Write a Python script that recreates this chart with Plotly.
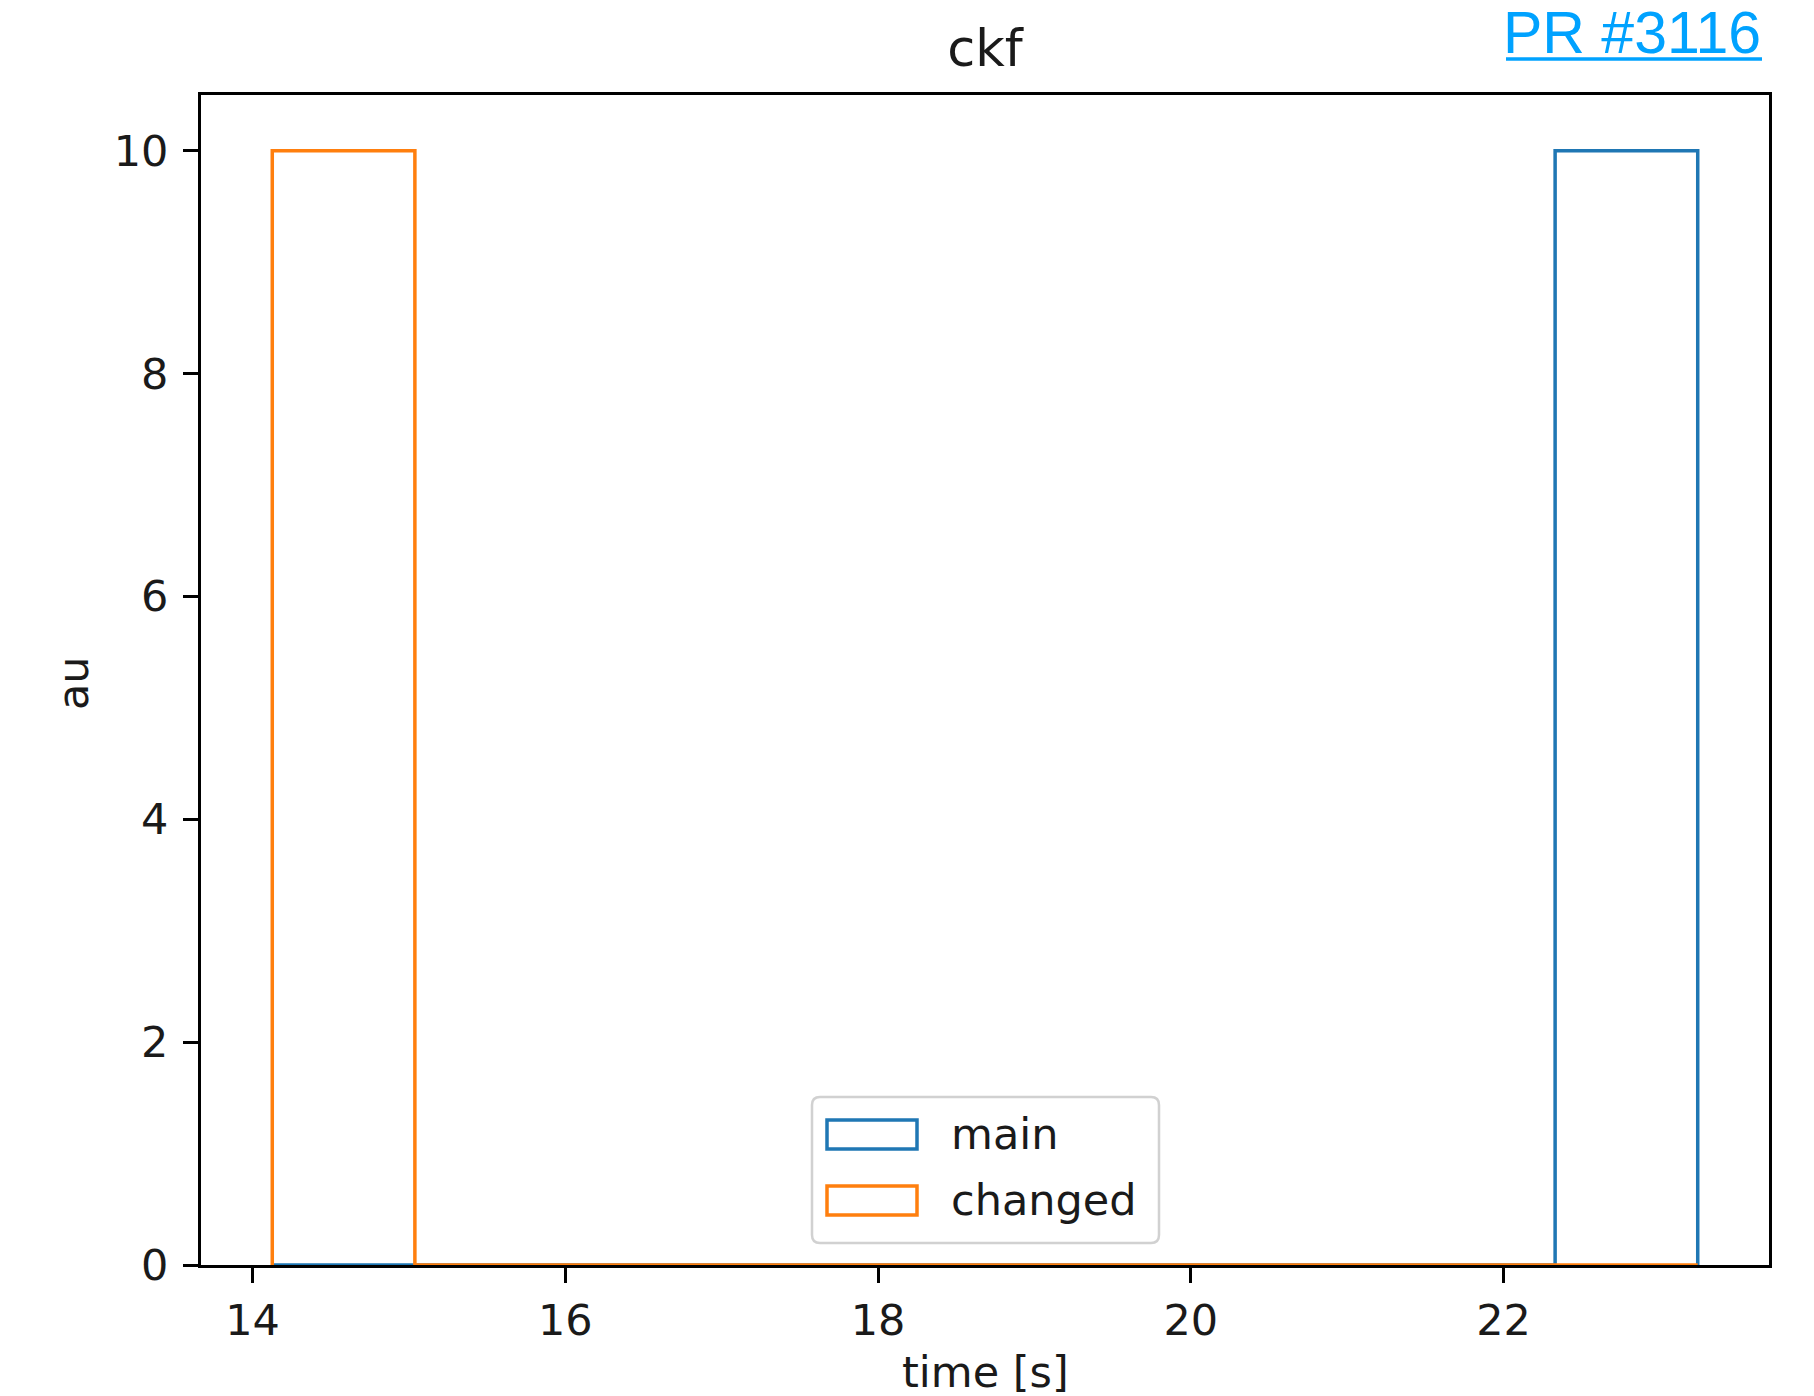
import numpy as np
import plotly.graph_objects as go

# ---- data ----
bin_edges = [14.126, 15.038, 15.949, 16.861, 17.772, 18.684,
             19.596, 20.507, 21.419, 22.330, 23.242]
series_names = ["main", "changed"]
counts_main = [0, 0, 0, 0, 0, 0, 0, 0, 0, 10]
counts_changed = [10, 0, 0, 0, 0, 0, 0, 0, 0, 0]
x_ticks = [14, 16, 18, 20, 22]
y_ticks = [0, 2, 4, 6, 8, 10]
title_text = "ckf"
x_title = "time [s]"
y_title = "au"
link_text = "PR #3116"

colors = {"main": "#1f77b4", "changed": "#ff7f0e"}
W, H = 1814, 1396
L, R, T, B = 201, 45, 95, 131
pw, ph = W - L - R, H - T - B
FONT = "DejaVu Sans"
FS = 43
TXT = "#1a1a1a"


def step_outline(edges, counts):
    e = np.asarray(edges, float)
    c = np.asarray(counts, float)
    xs = np.repeat(e, 2)
    ys = np.concatenate([[0.0], np.repeat(c, 2), [0.0]])
    return xs, ys


fig = go.Figure()
for name, cnt in (("main", counts_main), ("changed", counts_changed)):
    xs, ys = step_outline(bin_edges, cnt)
    fig.add_trace(go.Scatter(x=xs, y=ys, mode="lines", name=name,
                             line=dict(color=colors[name], width=3.5),
                             showlegend=False, hoverinfo="skip"))

span = bin_edges[-1] - bin_edges[0]
xr = [bin_edges[0] - 0.05 * span, bin_edges[-1] + 0.05 * span]
ymax = max(max(counts_main), max(counts_changed))
yr = [0, ymax * 1.05]


def px_x(p):
    return (p - L) / pw


def px_y(p):
    return (H - B - p) / ph


shapes = []
annotations = []
# legend frame (rounded)
lx0, lx1 = px_x(812), px_x(1159)
ly0, ly1 = px_y(1243), px_y(1097)
rx, ry = 8 / pw, 8 / ph
path = (f"M {lx0+rx},{ly0} L {lx1-rx},{ly0} Q {lx1},{ly0} {lx1},{ly0+ry} "
        f"L {lx1},{ly1-ry} Q {lx1},{ly1} {lx1-rx},{ly1} L {lx0+rx},{ly1} "
        f"Q {lx0},{ly1} {lx0},{ly1-ry} L {lx0},{ly0+ry} Q {lx0},{ly0} {lx0+rx},{ly0} Z")
shapes.append(dict(type="path", xref="paper", yref="paper", path=path,
                   line=dict(color="rgba(204,204,204,0.9)", width=2.5),
                   fillcolor="rgba(255,255,255,0.8)", layer="above"))
legend_rows = [("main", 1120, 1149), ("changed", 1186, 1215)]
for name, top, bot in legend_rows:
    shapes.append(dict(type="rect", xref="paper", yref="paper",
                       x0=px_x(827), x1=px_x(917), y0=px_y(bot), y1=px_y(top),
                       line=dict(color=colors[name], width=3.5),
                       fillcolor="rgba(0,0,0,0)", layer="above"))
    annotations.append(dict(text=name, xref="paper", yref="paper",
                            x=px_x(949), y=px_y((top + bot) / 2 - 1),
                            xanchor="left", yanchor="middle", showarrow=False,
                            font=dict(family=FONT, size=FS, color=TXT)))

# axis titles
annotations.append(dict(text=x_title, xref="paper", yref="paper",
                        x=px_x(985), y=px_y(1372), xanchor="center", yanchor="middle",
                        showarrow=False, font=dict(family=FONT, size=FS, color=TXT)))
annotations.append(dict(text=y_title, xref="paper", yref="paper", textangle=-90,
                        x=px_x(73), y=px_y(683), xanchor="center", yanchor="middle",
                        showarrow=False, font=dict(family=FONT, size=FS, color=TXT)))

# link text top-right
annotations.append(dict(text=link_text, xref="paper", yref="paper",
                        x=px_x(1763), y=px_y(33), xanchor="right", yanchor="middle",
                        showarrow=False,
                        font=dict(family="Liberation Sans", size=59, color="#00A2FF")))
shapes.append(dict(type="line", xref="paper", yref="paper",
                   x0=px_x(1506), x1=px_x(1762), y0=px_y(59), y1=px_y(59),
                   line=dict(color="#00A2FF", width=3.5), layer="above"))

fig.update_layout(
    width=W, height=H,
    margin=dict(l=L, r=R, t=T, b=B, autoexpand=False),
    paper_bgcolor="white", plot_bgcolor="white",
    showlegend=False,
    title=dict(text=title_text, x=px_x(985), xref="paper", xanchor="center",
               y=1 - 48 / H, yanchor="middle",
               font=dict(family=FONT, size=51, color=TXT)),
    shapes=shapes, annotations=annotations,
    font=dict(family=FONT, color=TXT),
)
fig.update_xaxes(range=xr, tickvals=x_ticks, ticktext=[str(v) for v in x_ticks],
                 showgrid=False, zeroline=False, showline=True, mirror=True,
                 linecolor="black", linewidth=3, ticks="outside", ticklen=15,
                 tickwidth=3, tickcolor="black", layer="above traces",
                 automargin=False,
                 tickfont=dict(family=FONT, size=FS, color=TXT))
fig.update_yaxes(range=yr, tickvals=y_ticks, ticktext=[str(v) for v in y_ticks],
                 showgrid=False, zeroline=False, showline=True, mirror=True,
                 linecolor="black", linewidth=3, ticks="outside", ticklen=15,
                 tickwidth=3, tickcolor="black", layer="above traces",
                 automargin=False, ticklabelstandoff=6,
                 tickfont=dict(family=FONT, size=FS, color=TXT))

fig.write_html("out.html", config={"displayModeBar": False},
               post_script="document.body.style.margin='0';")
